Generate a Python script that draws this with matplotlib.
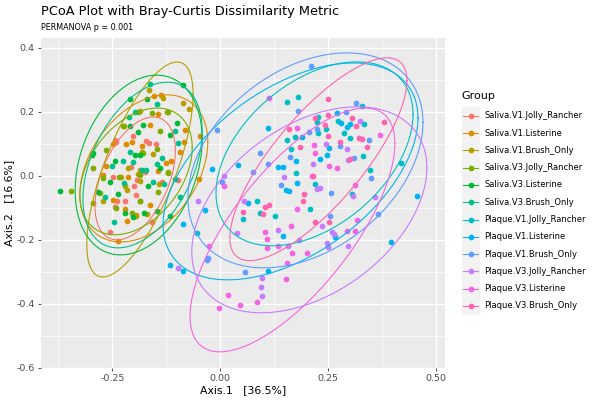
import numpy as np
import matplotlib
matplotlib.use("Agg")
import matplotlib.pyplot as plt

# ------------------ Data ------------------

groups = [
    "Saliva.V1.Jolly_Rancher", "Saliva.V1.Listerine", "Saliva.V1.Brush_Only",
    "Saliva.V3.Jolly_Rancher", "Saliva.V3.Listerine", "Saliva.V3.Brush_Only",
    "Plaque.V1.Jolly_Rancher", "Plaque.V1.Listerine", "Plaque.V1.Brush_Only",
    "Plaque.V3.Jolly_Rancher", "Plaque.V3.Listerine", "Plaque.V3.Brush_Only",
]

colors = ["#F8766D", "#DE8C00", "#B79F00", "#7CAE00", "#00BA38", "#00C08B",
          "#00BFC4", "#00B4F0", "#619CFF", "#C77CFF", "#F564E3", "#FF64B0"]

sv1_jr_x = [-0.244, -0.241, -0.203, -0.172, -0.164, -0.149, -0.248, -0.207, -0.192, -0.200,
            -0.221, -0.194, -0.240, -0.244, -0.174, -0.159, -0.255, -0.097, -0.136]
sv1_jr_y = [0.112, 0.104, 0.124, 0.108, 0.101, 0.098, -0.003, 0.028, -0.013, -0.032,
            -0.078, -0.060, -0.081, -0.097, 0.011, -0.144, -0.175, -0.013, -0.019]

sv1_li_x = [-0.137, -0.153, -0.144, -0.163, -0.218, -0.204, -0.182, -0.248, -0.082, -0.084,
            -0.093, -0.047, -0.126, -0.114, -0.265, -0.271, -0.213, -0.145, -0.163, -0.248,
            -0.217, -0.194, -0.236, -0.049, -0.221]
sv1_li_y = [0.252, 0.250, 0.192, 0.158, 0.098, 0.104, 0.094, 0.098, 0.143, 0.104,
            0.075, 0.124, 0.039, 0.044, 0.030, 0.002, -0.003, 0.015, -0.092, -0.076,
            -0.142, -0.123, -0.203, -0.011, -0.104]

sv1_bo_x = [-0.164, -0.132, -0.087, -0.073, -0.186, -0.123, -0.223, -0.182, -0.156, -0.186,
            -0.191, -0.186, -0.213, -0.231, -0.221, -0.217, -0.186, -0.271, -0.141, -0.120,
            -0.195, -0.169]
sv1_bo_y = [0.268, 0.242, 0.226, 0.208, 0.203, 0.198, 0.155, 0.073, 0.068, 0.018,
            0.005, -0.017, 0.023, -0.006, -0.032, -0.045, -0.081, -0.079, -0.027, 0.011,
            -0.125, -0.121]

sv3_jr_x = [-0.346, -0.294, -0.265, -0.225, -0.190, -0.159, -0.140, -0.122, -0.147, -0.180,
            -0.234, -0.186, -0.271, -0.278, -0.241, -0.186, -0.144, -0.120, -0.295, -0.205]
sv3_jr_y = [-0.047, 0.023, 0.080, 0.155, 0.200, 0.195, 0.138, 0.198, 0.083, 0.072,
            -0.003, 0.002, -0.008, -0.055, -0.102, -0.081, -0.050, 0.008, -0.086, -0.118]

sv3_li_x = [-0.371, -0.086, -0.209, -0.170, -0.180, -0.209, -0.190, -0.101, -0.294, -0.298,
            -0.197, -0.186, -0.244, -0.140, -0.255, -0.236, -0.221, -0.201, -0.176, -0.116,
            -0.167, -0.116, -0.284, -0.147]
sv3_li_y = [-0.047, 0.283, 0.239, 0.239, 0.158, 0.155, 0.136, 0.164, 0.070, 0.063,
            0.065, 0.065, 0.047, 0.023, -0.019, -0.058, -0.118, -0.128, -0.118, -0.126,
            -0.034, 0.127, -0.052, -0.110]

sv3_bo_x = [-0.163, -0.147, -0.211, -0.197, -0.097, -0.105, -0.209, -0.226, -0.250, -0.203,
            -0.147, -0.136, -0.182, -0.172, -0.155, -0.130, -0.222, -0.267, -0.245, -0.105,
            -0.093]
sv3_bo_y = [0.286, 0.223, 0.184, 0.198, 0.101, 0.138, 0.075, 0.044, 0.030, 0.042,
            0.037, 0.054, 0.018, 0.016, -0.019, -0.027, -0.024, -0.066, -0.144, -0.010,
            -0.066]

pv1_jr_x = [0.154, 0.180, 0.327, 0.333, 0.273, 0.224, 0.227, 0.244, 0.227, 0.286,
            0.301, 0.173, 0.154, 0.164, 0.330, 0.175, 0.347, 0.418, 0.219, 0.305,
            0.085, 0.092, 0.053, 0.127, 0.208, -0.055]
pv1_jr_y = [0.229, 0.245, 0.218, 0.162, 0.172, 0.167, 0.183, 0.145, 0.133, 0.133,
            0.117, 0.122, 0.112, 0.083, 0.062, 0.009, 0.016, 0.039, -0.026, -0.057,
            -0.078, -0.116, -0.135, -0.126, -0.105, -0.178]

pv1_li_x = [0.111, -0.019, 0.042, 0.134, 0.146, 0.190, 0.269, 0.279, 0.293, 0.300,
            0.252, 0.246, 0.231, 0.175, 0.177, 0.152, 0.159, 0.455, 0.065, -0.035,
            -0.087, 0.146, 0.266, 0.394, 0.111, -0.087, -0.116]
pv1_li_y = [0.148, 0.021, 0.033, 0.028, 0.026, 0.120, 0.197, 0.164, 0.153, 0.161,
            0.086, 0.063, 0.051, 0.047, -0.024, -0.045, -0.047, -0.063, -0.086, -0.109,
            -0.152, -0.188, -0.193, -0.208, -0.298, -0.298, -0.279]

pv1_bo_x = [0.209, -0.008, 0.179, 0.313, 0.291, 0.223, 0.206, 0.344, 0.277, 0.161,
            0.092, 0.110, 0.075, 0.003, 0.141, 0.309, 0.349, 0.256, 0.254, 0.364,
            -0.031, -0.028, 0.057]
pv1_bo_y = [0.341, 0.143, 0.202, 0.226, 0.200, 0.145, 0.136, 0.112, 0.093, 0.059,
            0.072, 0.037, 0.011, -0.021, -0.029, 0.054, -0.008, -0.055, -0.125, -0.120,
            -0.263, -0.257, -0.303]

pv3_jr_x = [0.324, 0.244, 0.293, 0.295, 0.215, 0.147, 0.009, 0.223, 0.231, 0.307,
            -0.051, 0.055, 0.134, 0.039, 0.181, 0.236, 0.258, 0.262, 0.246, 0.249,
            0.296, 0.358, 0.157, 0.096, 0.094, 0.096, -0.097]
pv3_jr_y = [0.170, 0.099, 0.083, 0.049, 0.037, -0.003, -0.001, -0.043, -0.039, -0.063,
            -0.078, -0.078, -0.170, -0.180, -0.201, -0.157, -0.177, -0.183, -0.211, -0.222,
            -0.219, -0.068, -0.220, -0.321, -0.347, -0.378, -0.289]

pv3_li_x = [0.177, 0.216, 0.218, 0.252, 0.271, 0.312, 0.213, 0.370, 0.113, 0.177,
            0.164, 0.103, 0.109, 0.109, 0.134, 0.167, 0.200, 0.155, 0.152, -0.027,
            0.017, -0.002, 0.046, 0.084, 0.316, 0.312, 0.294, 0.009]
pv3_li_y = [0.148, 0.096, 0.070, 0.030, 0.023, -0.031, 0.000, 0.126, 0.244, -0.104,
            -0.157, -0.177, -0.199, -0.225, -0.220, -0.243, -0.241, -0.274, -0.322, -0.219,
            -0.373, -0.413, -0.406, -0.394, -0.138, -0.173, -0.173, -0.034]

pv3_bo_x = [0.250, 0.219, 0.249, 0.243, 0.249, 0.160, 0.304, 0.313, 0.277, 0.321,
            0.328, 0.339, 0.378, 0.185, 0.300, 0.214, 0.194, 0.113, 0.104, 0.098,
            0.219, 0.252, 0.192, 0.052]
pv3_bo_y = [0.240, 0.179, 0.190, 0.158, 0.124, 0.145, 0.181, 0.155, 0.106, 0.119,
            0.115, 0.089, 0.169, 0.089, 0.052, -0.001, -0.057, -0.092, -0.099, -0.121,
            -0.144, -0.144, -0.078, -0.113]

xs = [sv1_jr_x, sv1_li_x, sv1_bo_x, sv3_jr_x, sv3_li_x, sv3_bo_x,
      pv1_jr_x, pv1_li_x, pv1_bo_x, pv3_jr_x, pv3_li_x, pv3_bo_x]
ys = [sv1_jr_y, sv1_li_y, sv1_bo_y, sv3_jr_y, sv3_li_y, sv3_bo_y,
      pv1_jr_y, pv1_li_y, pv1_bo_y, pv3_jr_y, pv3_li_y, pv3_bo_y]

# 95% ellipses: centre, half width, half height,
# and x offset of the topmost point (sets the tilt)
ell_cx = [-0.197, -0.177, -0.186, -0.195, -0.189, -0.180, 0.218, 0.1625, 0.197, 0.206, 0.167, 0.227]
ell_cy = [-0.009, 0.0225, 0.019, 0.013, 0.033, 0.033, 0.068, 0.013, 0.0475, -0.107, -0.170, 0.051]
ell_hx = [0.093, 0.148, 0.123, 0.130, 0.147, 0.138, 0.228, 0.295, 0.272, 0.272, 0.237, 0.205]
ell_hy = [0.192, 0.230, 0.336, 0.198, 0.281, 0.259, 0.2875, 0.339, 0.336, 0.322, 0.381, 0.317]
ell_dx = [0.042, 0.053, 0.086, 0.049, 0.042, 0.057, 0.098, 0.145, 0.096, 0.111, 0.168, 0.159]

x_ticks = [-0.25, 0.0, 0.25, 0.50]
x_labels = ["-0.25", "0.00", "0.25", "0.50"]
y_ticks = [-0.6, -0.4, -0.2, 0.0, 0.2, 0.4]
y_labels = ["-0.6", "-0.4", "-0.2", "0.0", "0.2", "0.4"]


def ellipse_path(cx, cy, hx, hy, dx, n=200):
    cov = np.array([[hx ** 2, dx * hy], [dx * hy, hy ** 2]])
    L = np.linalg.cholesky(cov)
    t = np.linspace(0, 2 * np.pi, n)
    pts = L @ np.vstack([np.cos(t), np.sin(t)])
    return cx + pts[0], cy + pts[1]


# ------------------ Plot ------------------

plt.rcParams["font.family"] = ["DejaVu Sans"]
W, H = 600, 400
fig = plt.figure(figsize=(6, 4), dpi=100)
fig.patch.set_facecolor("white")

ax = fig.add_axes([41 / W, (H - 367.5) / H, 404 / W, (367.5 - 37.7) / H])
ax.set_facecolor("#EBEBEB")
for s in ax.spines.values():
    s.set_visible(False)

ax.set_xlim(-0.415, 0.520)
ax.set_ylim(-0.599, 0.431)
ax.set_xticks(x_ticks)
ax.set_xticklabels(x_labels)
ax.set_yticks(y_ticks)
ax.set_yticklabels(y_labels)
ax.set_xticks([-0.375, -0.125, 0.125, 0.375], minor=True)
ax.set_yticks([-0.5, -0.3, -0.1, 0.1, 0.3], minor=True)
ax.grid(which="major", color="white", linewidth=1.0)
ax.grid(which="minor", color="white", linewidth=0.5)
ax.set_axisbelow(True)
ax.tick_params(which="major", length=2.5, width=0.6, color="#333333",
               labelcolor="#4D4D4D", labelsize=6.8, pad=2)
ax.tick_params(which="minor", length=0)

for i in range(len(groups)):
    ax.scatter(xs[i], ys[i], s=17, color=colors[i], linewidths=0, zorder=2)

for i in range(len(groups)):
    ex, ey = ellipse_path(ell_cx[i], ell_cy[i], ell_hx[i], ell_hy[i], ell_dx[i])
    ax.plot(ex, ey, color=colors[i], linewidth=0.8, zorder=3)

ax.set_xlabel("Axis.1   [36.5%]", fontsize=7.8, labelpad=2)
ax.set_ylabel("Axis.2   [16.6%]", fontsize=7.8, labelpad=1.5)

fig.text(41 / W, 1 - 11.5 / H, "PCoA Plot with Bray-Curtis Dissimilarity Metric",
         fontsize=9.3, va="center", ha="left")
fig.text(41 / W, 1 - 27.5 / H, "PERMANOVA p = 0.001", fontsize=5.8, va="center", ha="left")

# legend drawn by hand so the key column gets its grey background
lg = fig.add_axes([0, 0, 1, 1], facecolor="none")
lg.set_xlim(0, W)
lg.set_ylim(H, 0)
lg.axis("off")
lg.text(461, 96, "Group", fontsize=8, va="center", ha="left")
lg.add_patch(plt.Rectangle((462, 107.3), 17, 206.7, color="#F2F2F2", zorder=1))
step = 17.3
for i, g in enumerate(groups):
    yy = 115.7 + i * step
    lg.plot([463, 478], [yy, yy], color=colors[i], linewidth=0.8, zorder=2)
    lg.scatter([470.5], [yy], s=17, color=colors[i], linewidths=0, zorder=3)
    lg.text(484.5, yy, g, fontsize=6.0, va="center", ha="left", color="black")

fig.savefig("out.png", dpi=100)
